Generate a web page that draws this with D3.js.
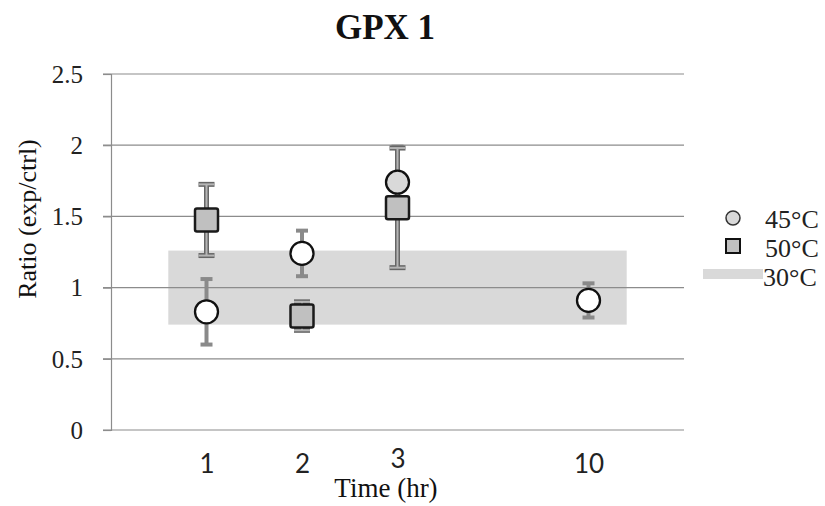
<!DOCTYPE html>
<html><head><meta charset="utf-8">
<script src="https://cdn.jsdelivr.net/npm/d3@7"></script>
<style>body{margin:0;background:#fff}svg{display:block}</style>
</head><body>
<svg id="c" width="825" height="506"></svg>
<script>
const categories = ["1", "2", "3", "10"];
const xPositions = [1, 2, 3, 5];
const s45 = [0.83, 1.24, 1.74, 0.91];
const s45err = [0.23, 0.16, 0.25, 0.12];
const s50 = [1.475, 0.80, 1.56, null];
const s50err = [0.25, 0.10, 0.42, null];
const band30 = {x0: 0.6, x1: 5.4, y0: 0.74, y1: 1.26};
const yTicks = [0, 0.5, 1, 1.5, 2, 2.5];
const legendLabels = ["45°C", "50°C", "30°C"];

const svg = d3.select("#c");
const serif = "'Liberation Serif','Times New Roman',serif";
const x = d3.scaleLinear().domain([0, 6]).range([111, 684]);
const y = d3.scaleLinear().domain([0, 2.5]).range([430, 74]);

// band
svg.append("rect").attr("x", x(band30.x0)).attr("width", x(band30.x1) - x(band30.x0))
  .attr("y", y(band30.y1)).attr("height", y(band30.y0) - y(band30.y1)).attr("fill", "#d9d9d9");

// gridlines
svg.append("g").selectAll("line").data(yTicks).join("line")
  .attr("x1", 103).attr("x2", 684).attr("y1", d => y(d)).attr("y2", d => y(d))
  .attr("stroke", "#8c8c8c").attr("stroke-width", 1.2);

// y axis
const yAxis = svg.append("g").attr("transform", "translate(111,0)")
  .call(d3.axisLeft(y).tickValues(yTicks).tickSize(8).tickPadding(20).tickFormat(d => String(d)));
yAxis.select(".domain").attr("stroke", "#8c8c8c").attr("stroke-width", 1.2);
yAxis.selectAll(".tick line").attr("stroke", "#8c8c8c").attr("stroke-width", 1.2);
yAxis.selectAll("text").attr("font-family", serif).attr("font-size", 25).attr("fill", "#222").attr("dy", "0.33em");

// x axis labels
const xAxis = svg.append("g").attr("transform", "translate(0,430)")
  .call(d3.axisBottom(x).tickValues(xPositions).tickSize(0).tickPadding(25).tickFormat((d, i) => categories[i]));
xAxis.select(".domain").remove();
xAxis.selectAll("text").attr("font-family", "Lato, 'Open Sans', sans-serif").attr("font-size", 26).attr("fill", "#222")
  .attr("dy", (d, i) => i === 2 ? "0.5em" : "0.71em");

// titles
svg.append("text").attr("x", 385).attr("y", 39).attr("text-anchor", "middle")
  .attr("font-family", serif).attr("font-weight", "bold").attr("font-size", 35).attr("fill", "#111").text("GPX 1");
svg.append("text").attr("x", 386).attr("y", 497).attr("text-anchor", "middle")
  .attr("font-family", serif).attr("font-size", 27).attr("fill", "#111").text("Time (hr)");
svg.append("text").attr("transform", "translate(36,219) rotate(-90)").attr("text-anchor", "middle")
  .attr("font-family", serif).attr("font-size", 26).attr("fill", "#111").text("Ratio (exp/ctrl)");

// error bars 45
const eb45 = svg.append("g");
s45.forEach((v, i) => {
  const cx = x(xPositions[i]), e = s45err[i];
  eb45.append("line").attr("x1", cx).attr("x2", cx).attr("y1", y(v + e)).attr("y2", y(v - e))
    .attr("stroke", "#8a8a8a").attr("stroke-width", 4);
  [v + e, v - e].forEach(t => eb45.append("line").attr("x1", cx - 6).attr("x2", cx + 6)
    .attr("y1", y(t)).attr("y2", y(t)).attr("stroke", "#8a8a8a").attr("stroke-width", 4));
});

// error bars 50 (double-line style)
const eb50 = svg.append("g");
s50.forEach((v, i) => {
  if (v == null) return;
  const cx = x(xPositions[i]), e = s50err[i];
  [["#666", 5], ["#b5b5b5", 2]].forEach(([c, w]) => {
    eb50.append("line").attr("x1", cx).attr("x2", cx).attr("y1", y(v + e)).attr("y2", y(v - e))
      .attr("stroke", c).attr("stroke-width", w);
    [v + e, v - e].forEach(t => eb50.append("line").attr("x1", cx - 8).attr("x2", cx + 8)
      .attr("y1", y(t)).attr("y2", y(t)).attr("stroke", c).attr("stroke-width", w));
  });
});

// squares 50
svg.append("g").selectAll("rect").data(s50.map((v, i) => [xPositions[i], v]).filter(d => d[1] != null)).join("rect")
  .attr("x", d => x(d[0]) - 11.5).attr("y", d => y(d[1]) - 11.5).attr("width", 23).attr("height", 23).attr("rx", 2)
  .attr("fill", "#c0c0c0").attr("stroke", "#1a1a1a").attr("stroke-width", 2.5);

// circles 45
svg.append("g").selectAll("circle").data(s45.map((v, i) => [xPositions[i], v, i])).join("circle")
  .attr("cx", d => x(d[0])).attr("cy", d => y(d[1])).attr("r", 11.5)
  .attr("fill", d => d[2] === 2 ? "#d9d9d9" : "#fff").attr("stroke", "#111").attr("stroke-width", 2.3);

// legend
const lg = svg.append("g");
lg.append("circle").attr("cx", 733).attr("cy", 218).attr("r", 7).attr("fill", "#d9d9d9").attr("stroke", "#333").attr("stroke-width", 1.5);
lg.append("rect").attr("x", 726).attr("y", 239).attr("width", 14).attr("height", 14).attr("fill", "#c0c0c0").attr("stroke", "#111").attr("stroke-width", 2);
lg.append("rect").attr("x", 703).attr("y", 269).attr("width", 60).attr("height", 10).attr("fill", "#d9d9d9");
lg.selectAll("text").data(legendLabels).join("text")
  .attr("x", (d, i) => i === 2 ? 763 : 765).attr("y", (d, i) => [228, 257, 286][i])
  .attr("font-family", serif).attr("font-size", 26).attr("fill", "#222").text(d => d);
</script>
</body></html>
